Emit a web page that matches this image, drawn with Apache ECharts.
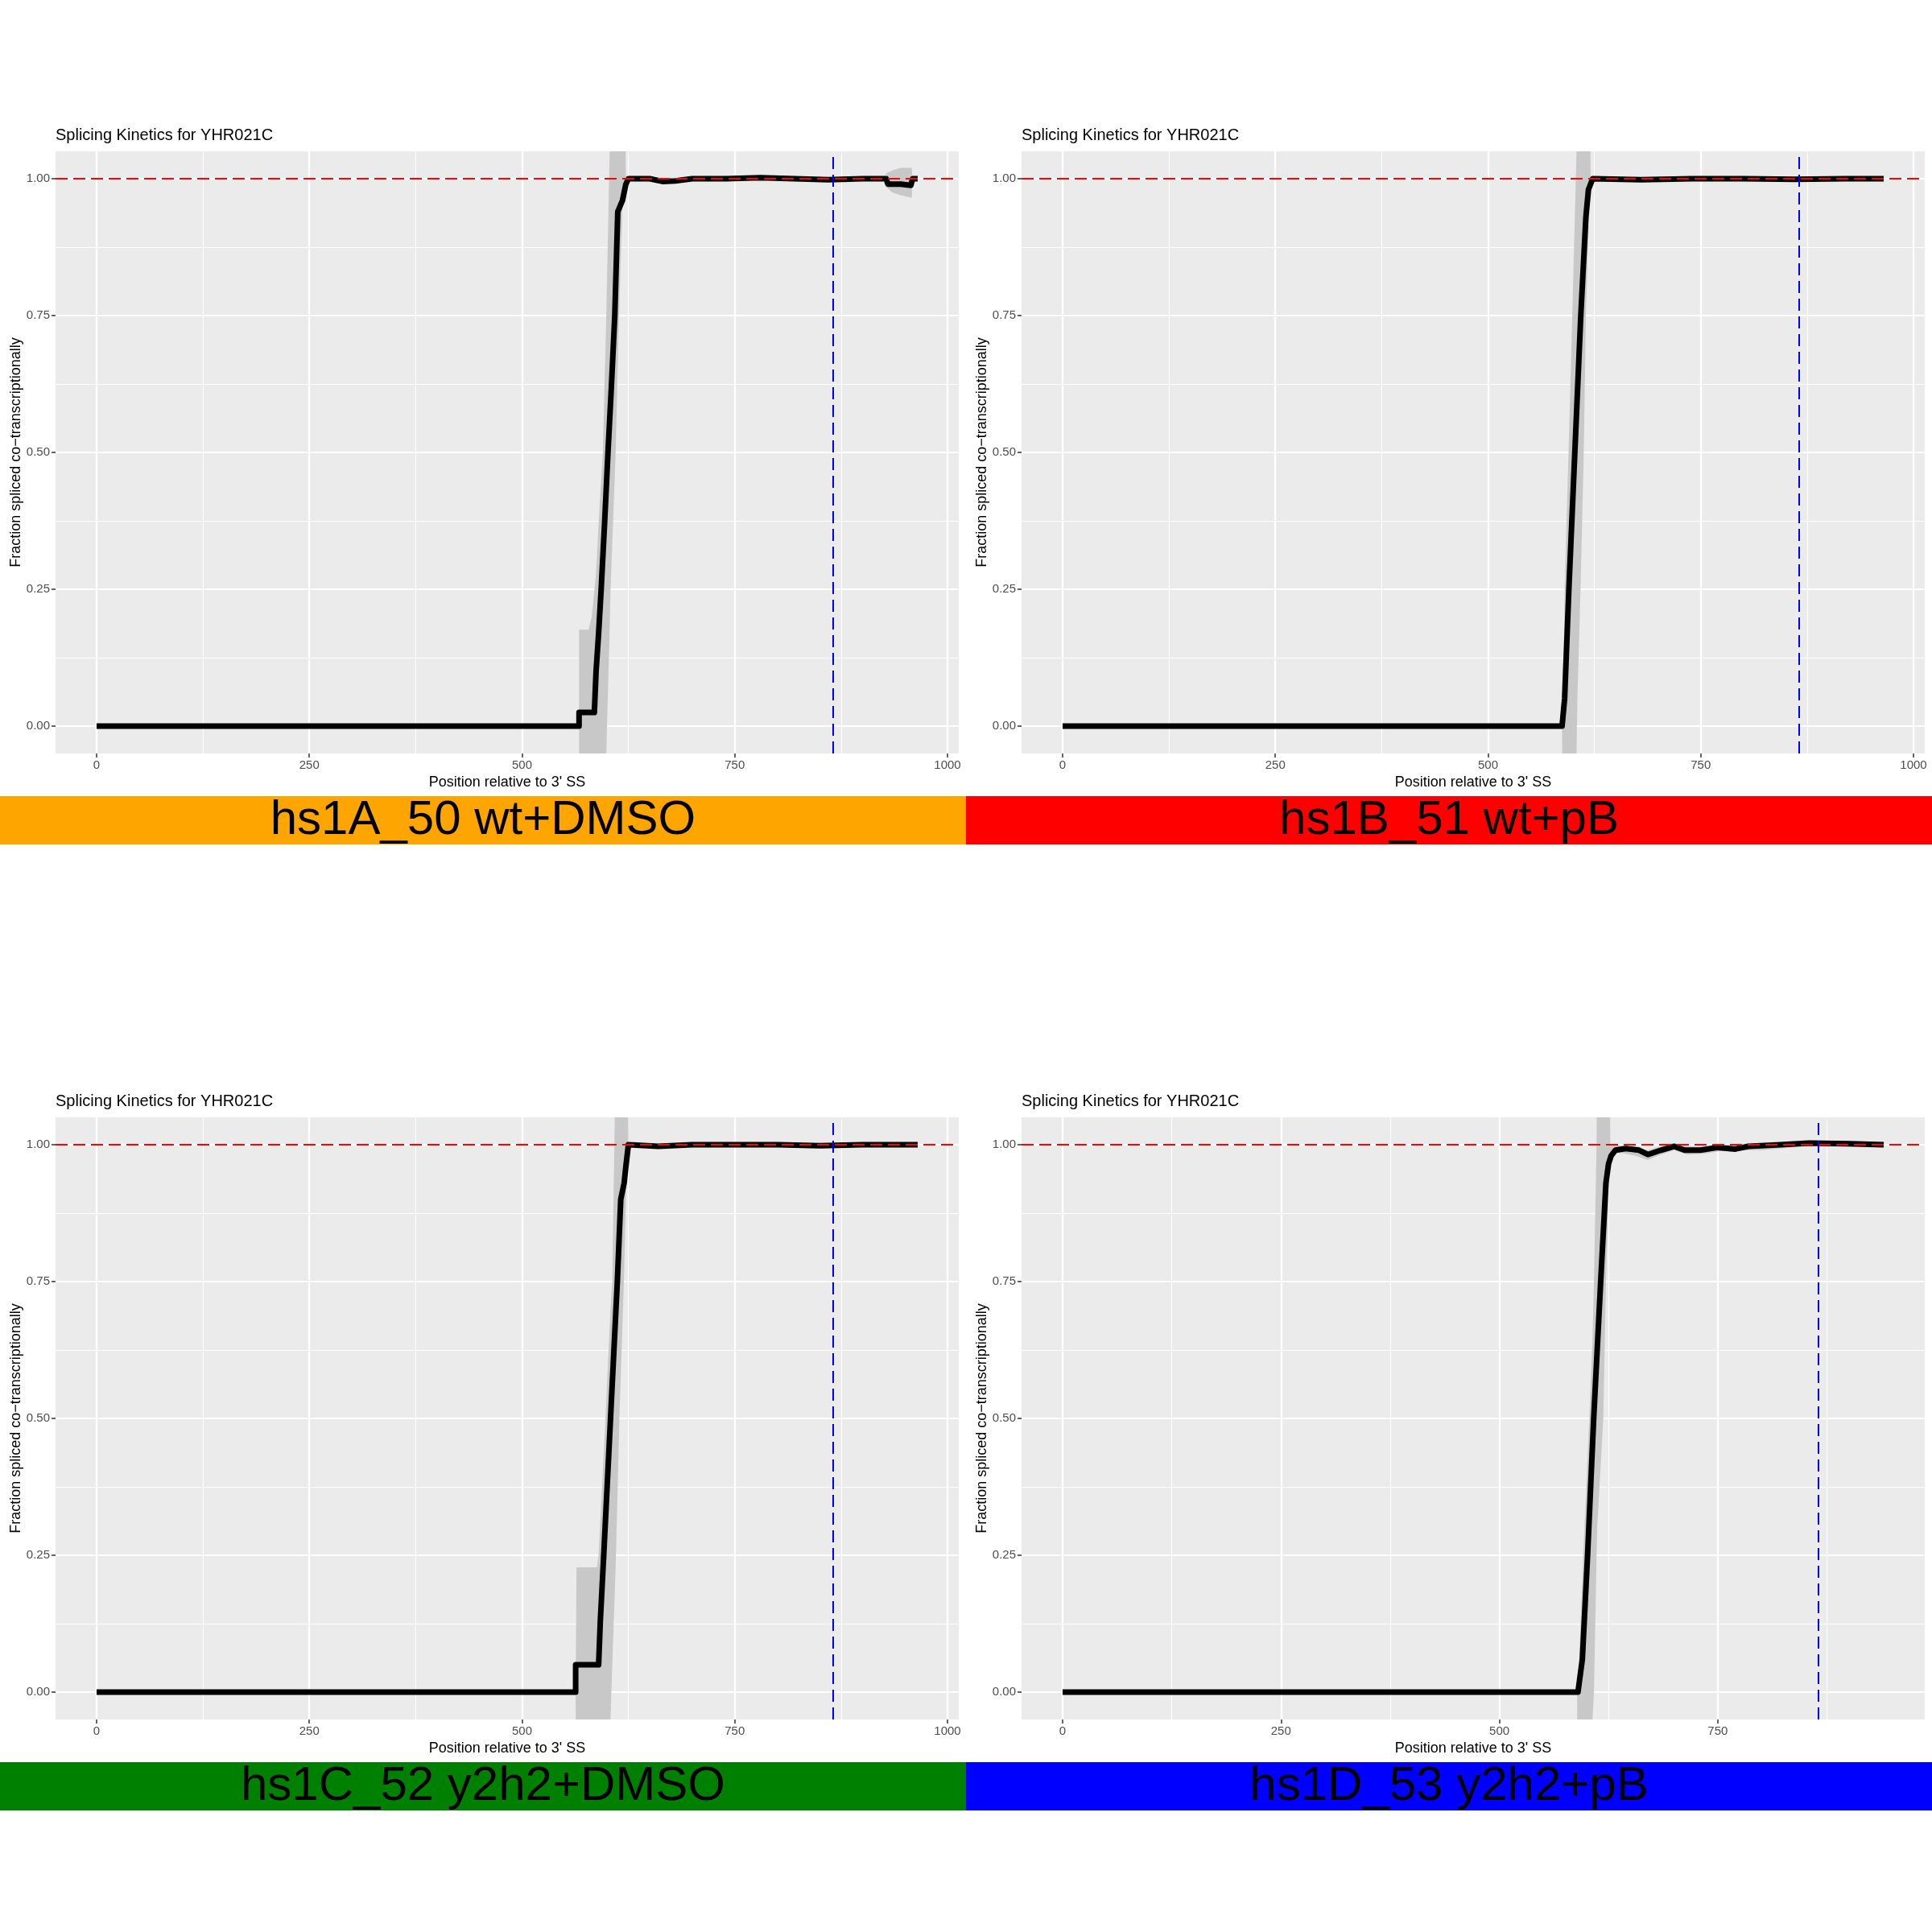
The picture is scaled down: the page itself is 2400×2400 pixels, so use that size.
<!DOCTYPE html>
<html><head><meta charset="utf-8">
<script src="https://cdn.jsdelivr.net/npm/echarts@6/dist/echarts.min.js"></script>
<style>html,body{margin:0;padding:0;background:#fff}#c{width:2400px;height:2400px}</style>
</head><body><div id="c"></div>
<script>
// ---- tick labels / text ----
const xTicksFull = [0, 250, 500, 750, 1000];
const xTicksD = [0, 250, 500, 750];
const xMinorTicks = [125, 375, 625, 875];
const yTicks = [0, 0.25, 0.5, 0.75, 1];
const yMinorTicks = [0.125, 0.375, 0.625, 0.875];
const panelTitle = 'Splicing Kinetics for YHR021C';
const xName = "Position relative to 3' SS";
const yName = 'Fraction spliced co\u2212transcriptionally';
const sampleLabels = ['hs1A_50 wt+DMSO', 'hs1B_51 wt+pB', 'hs1C_52 y2h2+DMSO', 'hs1D_53 y2h2+pB'];
const sampleColors = ['#FFA500', '#FF0000', '#008000', '#0000FF'];
const refY = 1.0;
const refX = 865;
const xDataMax = [965, 965, 965, 940];

// ---- panel A ----
const posA  = [0, 567, 567, 585, 587, 590, 593, 597, 601, 605, 609, 612.5, 618, 622, 625, 650, 665, 680, 700, 740, 780, 820, 860, 900, 928, 930, 945, 957, 959, 965];
const fracA = [0, 0, 0.025, 0.025, 0.1, 0.17, 0.25, 0.37, 0.5, 0.62, 0.75, 0.94, 0.96, 0.99, 1.0, 1.0, 0.995, 0.996, 1.0, 1.0, 1.002, 1.0, 0.998, 1.0, 1.0, 0.99, 0.99, 0.988, 1.0, 1.0];
const ribXA  = [567, 567, 578, 582, 587, 591, 595, 599, 603, 604, 610, 614, 618, 621, 622, 927, 928, 935, 945, 958, 959];
const ribLoA = [0, -0.3, -0.3, -0.25, -0.2, -0.15, -0.1, -0.05, 0.18, 0.25, 0.5, 0.75, 0.95, 0.99, 1.0, 1.0, 0.985, 0.975, 0.97, 0.965, 1.0];
const ribHiA = [0, 0.176, 0.176, 0.2, 0.28, 0.4, 0.5, 0.75, 1.05, 1.2, 1.2, 1.2, 1.2, 1.2, 1.0, 1.0, 1.01, 1.015, 1.02, 1.02, 1.0];

// ---- panel B ----
const posB  = [0, 587, 590, 595, 602, 609, 615, 618, 623, 680, 740, 800, 860, 920, 965];
const fracB = [0, 0, 0.05, 0.25, 0.5, 0.75, 0.93, 0.98, 1.0, 0.998, 1.0, 1.0, 0.999, 1.0, 1.0];
const ribXB  = [587, 588, 590, 594.6, 599, 604, 605, 608.7, 612.5, 615, 619, 620, 620.5];
const ribLoB = [0, -0.4, -0.35, -0.25, -0.15, -0.05, 0.05, 0.25, 0.5, 0.75, 0.956, 1.0, 1.0];
const ribHiB = [0, 0.0, 0.25, 0.5, 0.75, 1.05, 1.2, 1.2, 1.2, 1.2, 1.2, 1.2, 1.0];

// ---- panel C ----
const posC  = [0, 563, 563, 590, 592, 596, 604, 612, 616, 620, 622, 625, 660, 700, 750, 800, 850, 900, 965];
const fracC = [0, 0, 0.05, 0.05, 0.13, 0.25, 0.5, 0.75, 0.9, 0.93, 0.96, 1.0, 0.997, 1.0, 1.0, 1.0, 0.998, 1.0, 1.0];
const ribXC  = [563, 564, 588, 590, 598, 604, 606, 609, 610.4, 614.4, 619.7, 622.8, 624.5, 625];
const ribLoC = [0, -0.4, -0.3, -0.25, -0.12, -0.05, 0.05, 0.18, 0.25, 0.5, 0.75, 0.95, 1.0, 1.0];
const ribHiC = [0, 0.228, 0.228, 0.25, 0.5, 0.7, 0.75, 1.05, 1.2, 1.2, 1.2, 1.2, 1.2, 1.0];

// ---- panel D ----
const posD  = [0, 590, 595, 601, 608, 616, 622, 625, 628, 633, 645, 660, 670, 685, 700, 712, 730, 750, 770, 785, 822, 855, 900, 940];
const fracD = [0, 0, 0.06, 0.25, 0.5, 0.75, 0.93, 0.965, 0.98, 0.99, 0.993, 0.99, 0.982, 0.99, 0.997, 0.99, 0.99, 0.995, 0.992, 0.997, 1.0, 1.003, 1.002, 1.0];
const ribXD  = [589, 590, 596, 603, 606.7, 608.3, 611.3, 612, 619, 622, 625, 626, 627, 640, 655, 670, 685, 700, 715, 735, 760, 800, 850, 940];
const ribLoD = [0, -0.4, -0.3, -0.2, -0.05, 0.0, 0.25, 0.3, 0.5, 0.75, 0.9, 0.98, 0.985, 0.985, 0.98, 0.972, 0.982, 0.99, 0.982, 0.984, 0.99, 0.99, 0.997, 0.995];
const ribHiD = [0, 0.0, 0.25, 0.5, 0.65, 0.75, 1.0, 1.2, 1.2, 1.2, 1.2, 1.2, 1.0, 0.998, 0.995, 0.99, 0.997, 1.003, 0.997, 0.996, 1.0, 1.0, 1.008, 1.005];

const panels = [
  {pos: posA, frac: fracA, rx: ribXA, lo: ribLoA, hi: ribHiA, ticks: xTicksFull},
  {pos: posB, frac: fracB, rx: ribXB, lo: ribLoB, hi: ribHiB, ticks: xTicksFull},
  {pos: posC, frac: fracC, rx: ribXC, lo: ribLoC, hi: ribHiC, ticks: xTicksFull},
  {pos: posD, frac: fracD, rx: ribXD, lo: ribLoD, hi: ribHiD, ticks: xTicksD}
];

const FONT = "'Liberation Sans', Arial, Helvetica, sans-serif";
const CELL = 1200;
const G = {left: 69, top: 188, width: 1122, height: 748};

const option = {
  animation: false,
  backgroundColor: '#ffffff',
  title: [], grid: [], xAxis: [], yAxis: [], series: [], graphic: []
};

function ribbonRenderer(params, api) {
  if (params.dataIndex !== 0) return null;
  const n = params.dataInsideLength;
  const upper = [], lower = [];
  for (let k = 0; k < n; k++) {
    const x = api.value(0, k), lo = api.value(1, k), hi = api.value(2, k);
    upper.push(api.coord([x, hi]));
    lower.push(api.coord([x, lo]));
  }
  const pts = upper.concat(lower.reverse());
  const cs = params.coordSys;
  return {
    type: 'polygon',
    shape: {points: pts},
    style: {fill: '#C8C8C8'},
    clipPath: {type: 'rect', shape: {x: cs.x, y: cs.y, width: cs.width, height: cs.height}},
    silent: true
  };
}

panels.forEach((p, i) => {
  const col = i % 2, row = Math.floor(i / 2);
  const ox = col * CELL, oy = row * CELL;
  const xmin = -0.05 * xDataMax[i], xmax = 1.05 * xDataMax[i];

  option.title.push({
    text: panelTitle, left: ox + G.left, top: oy + 158, padding: 0,
    textStyle: {fontFamily: FONT, fontSize: 20, fontWeight: 'normal', color: '#000'}
  });
  option.grid.push({
    left: ox + G.left, top: oy + G.top, width: G.width, height: G.height,
    show: true, backgroundColor: '#EBEBEB', borderWidth: 0, containLabel: false
  });
  option.xAxis.push({
    type: 'value', gridIndex: i, min: xmin, max: xmax, position: 'bottom',
    name: xName, nameLocation: 'middle', nameGap: 27,
    nameTextStyle: {fontFamily: FONT, fontSize: 18, color: '#000'},
    axisLine: {show: false, onZero: false},
    axisTick: {show: true, length: 5, customValues: p.ticks, lineStyle: {color: '#333333', width: 1.5}},
    axisLabel: {show: true, customValues: p.ticks, margin: 7, fontFamily: FONT, fontSize: 15, color: '#4D4D4D',
      formatter: v => String(v)},
    splitLine: {show: true, lineStyle: {color: '#FFFFFF', width: 2.2}}
  });
  option.xAxis.push({
    type: 'value', gridIndex: i, min: xmin, max: xmax, position: 'top',
    axisLine: {show: false, onZero: false},
    axisTick: {show: false, customValues: xMinorTicks},
    axisLabel: {show: false, customValues: xMinorTicks},
    splitLine: {show: true, lineStyle: {color: '#FFFFFF', width: 1.1}}
  });
  option.yAxis.push({
    type: 'value', gridIndex: i, min: -0.05, max: 1.05, position: 'left',
    name: yName, nameLocation: 'middle', nameGap: 36,
    nameTextStyle: {fontFamily: FONT, fontSize: 18, color: '#000'},
    axisLine: {show: false, onZero: false},
    axisTick: {show: true, length: 5, customValues: yTicks, lineStyle: {color: '#333333', width: 1.5}},
    axisLabel: {show: true, customValues: yTicks, margin: 7, fontFamily: FONT, fontSize: 15, color: '#4D4D4D',
      formatter: v => v.toFixed(2)},
    splitLine: {show: true, lineStyle: {color: '#FFFFFF', width: 2.2}}
  });
  option.yAxis.push({
    type: 'value', gridIndex: i, min: -0.05, max: 1.05, position: 'right',
    axisLine: {show: false, onZero: false},
    axisTick: {show: false, customValues: yMinorTicks},
    axisLabel: {show: false, customValues: yMinorTicks},
    splitLine: {show: true, lineStyle: {color: '#FFFFFF', width: 1.1}}
  });

  const xi = 2 * i, yi = 2 * i;
  // confidence ribbon
  option.series.push({
    type: 'custom', xAxisIndex: xi, yAxisIndex: yi,
    data: p.rx.map((x, k) => [x, p.lo[k], p.hi[k]]),
    encode: {x: 0, y: [1, 2]},
    renderItem: ribbonRenderer, clip: true, silent: true, z: 2
  });
  // main curve
  option.series.push({
    type: 'line', xAxisIndex: xi, yAxisIndex: yi,
    data: p.pos.map((x, k) => [x, p.frac[k]]),
    symbol: 'none', showSymbol: false,
    lineStyle: {color: '#000000', width: 7, join: 'round', cap: 'butt'},
    emphasis: {disabled: true}, silent: true, z: 3, clip: true,
    markLine: {
      silent: true, symbol: ['none', 'none'], label: {show: false}, animation: false,
      data: [
        {yAxis: refY, lineStyle: {color: '#FF0000', type: [15, 7], width: 2}},
        {xAxis: refX, lineStyle: {color: '#0000FF', type: [15, 7], width: 2}}
      ]
    }
  });

  option.graphic.push({
    type: 'rect', silent: true, z: 10,
    shape: {x: ox, y: oy + 989, width: CELL, height: 60},
    style: {fill: sampleColors[i]}
  });
  option.graphic.push({
    type: 'text', silent: true, z: 11, x: ox + 600, y: oy + 1019,
    style: {text: sampleLabels[i], fill: '#000', font: '60px ' + FONT,
      textAlign: 'center', textVerticalAlign: 'middle', align: 'center', verticalAlign: 'middle'}
  });
});

const chart = echarts.init(document.getElementById('c'), null, {renderer: 'canvas'});
chart.setOption(option);
</script>
</body></html>
